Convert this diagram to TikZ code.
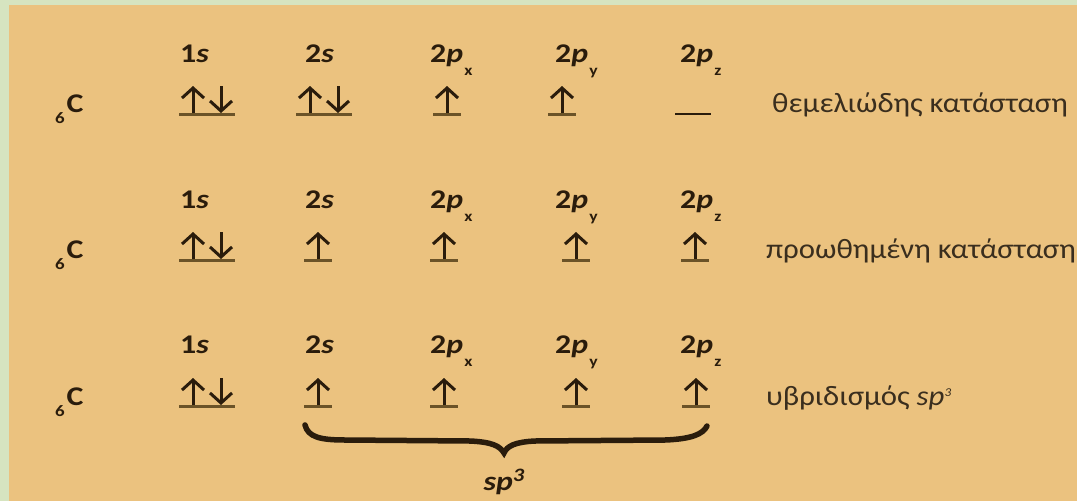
\documentclass[tikz,border=0pt]{standalone}
\usepackage{fontspec}
\setmainfont{Carlito}
\usetikzlibrary{arrows.meta,calc}
\definecolor{bgorange}{HTML}{EBC27F}
\definecolor{bggreen}{HTML}{D6E4C0}
\definecolor{ink}{HTML}{2A1C0C}
\definecolor{linec}{HTML}{6B5328}
\definecolor{greek}{HTML}{3A2E1E}
\newcommand\hs[1]{\scalebox{1.18}[1]{#1}}
\newcommand\gs[1]{\scalebox{1.1}[1]{#1}}
\newcommand\lowsub[1]{\kern1pt\raisebox{-13pt}{\fontsize{15}{15}\selectfont #1}}
\newcommand\atomsub[1]{\raisebox{-11pt}{\fontsize{16}{16}\selectfont\bfseries #1}\kern1.5pt}
\newcommand\orbpair[3]{%
  \coordinate (#1) at (#2,#3);
  \draw[orbline] ($(#1)+(-28,0)$) -- ($(#1)+(28,0)$);
  \draw[spin] ($(#1)+(-14,-1)$) -- ($(#1)+(-14,-28)$);
  \draw[spin] ($(#1)+(14,-28)$) -- ($(#1)+(14,-1)$);
}
\newcommand\orbup[3]{%
  \coordinate (#1) at (#2,#3);
  \draw[orbline] ($(#1)+(-14,0)$) -- ($(#1)+(14,0)$);
  \draw[spin] ($(#1)+(0,-1)$) -- ($(#1)+(0,-28)$);
}
\newcommand\orbnone[3]{%
  \coordinate (#1) at (#2,#3);
  \draw[emptyline] ($(#1)+(-18,0)$) -- ($(#1)+(18,0)$);
}
\begin{document}
\begin{tikzpicture}[x=1pt,y=-1pt,
  orbline/.style={line width=3pt, draw=linec},
  emptyline/.style={line width=2.6pt, draw=ink},
  spin/.style={line width=3pt, draw=ink, -{Straight Barb[length=10pt,width=22pt]}},
  lab/.style={anchor=base west, inner sep=0pt, text=ink, font=\fontsize{27}{27}\selectfont\bfseries},
  atom/.style={anchor=base west, inner sep=0pt, text=ink, font=\fontsize{27}{27}\selectfont\bfseries},
  state/.style={anchor=base west, inner sep=0pt, text=greek, font=\fontsize{28}{28}\selectfont},
  brace/.style={line width=5.5pt, draw=ink, line cap=round}]
\useasboundingbox (0,0) rectangle (1077,501);
\fill[bggreen] (0,0) rectangle (1077,501);
\fill[bgorange] (9,5) rectangle (1077,501);

% row 1: ground state
\node[atom] (c1) at (55,112) {\hs{\atomsub{6}C}};
\node[lab] (l11) at (180,62) {\hs{1\textit{s}}};
\node[lab] (l12) at (305,62) {\hs{2\textit{s}}};
\node[lab] (l13) at (430,62) {\hs{2\textit{p}\lowsub{x}}};
\node[lab] (l14) at (555,62) {\hs{2\textit{p}\lowsub{y}}};
\node[lab] (l15) at (680,62) {\hs{2\textit{p}\lowsub{z}}};
\orbpair{o11}{207}{114}
\orbpair{o12}{324}{114}
\orbup{o13}{447}{114}
\orbup{o14}{562}{114}
\orbnone{o15}{693}{114}
\node[state] (s1) at (772,112) {\gs{θεμελιώδης κατάσταση}};

% row 2: excited state
\node[atom] (c2) at (55,258) {\hs{\atomsub{6}C}};
\node[lab] (l21) at (180,208) {\hs{1\textit{s}}};
\node[lab] (l22) at (305,208) {\hs{2\textit{s}}};
\node[lab] (l23) at (430,208) {\hs{2\textit{p}\lowsub{x}}};
\node[lab] (l24) at (555,208) {\hs{2\textit{p}\lowsub{y}}};
\node[lab] (l25) at (680,208) {\hs{2\textit{p}\lowsub{z}}};
\orbpair{o21}{207}{260}
\orbup{o22}{318}{260}
\orbup{o23}{444}{260}
\orbup{o24}{576}{260}
\orbup{o25}{695}{260}
\node[state] (s2) at (766,258) {\gs{προωθημένη κατάσταση}};

% row 3: hybridisation
\node[atom] (c3) at (55,405) {\hs{\atomsub{6}C}};
\node[lab] (l31) at (180,353) {\hs{1\textit{s}}};
\node[lab] (l32) at (305,353) {\hs{2\textit{s}}};
\node[lab] (l33) at (430,353) {\hs{2\textit{p}\lowsub{x}}};
\node[lab] (l34) at (555,353) {\hs{2\textit{p}\lowsub{y}}};
\node[lab] (l35) at (680,353) {\hs{2\textit{p}\lowsub{z}}};
\orbpair{o31}{207}{406}
\orbup{o32}{318}{406}
\orbup{o33}{444}{406}
\orbup{o34}{576}{406}
\orbup{o35}{696}{406}
\node[state] (s3) at (766,405) {\gs{υβριδισμός \textit{sp}\raisebox{9pt}{\fontsize{12}{12}\selectfont\textit{3}}}};

% brace
\coordinate (bs) at (305,425);
\coordinate (bt) at (504,453);
\coordinate (be) at (707,426);
\draw[brace] (bs) .. controls (308,437) and (320,440) .. (345,440) -- (470,441)
  .. controls (492,442) and (500,446) .. (bt)
  .. controls (507,446) and (515,442) .. (535,441) -- (665,440)
  .. controls (692,439) and (703,434) .. (be);
\node[lab, anchor=base] (sp) at (504,490) {\hs{\textit{sp}\raisebox{9pt}{\fontsize{19}{19}\selectfont\textit{3}}}};
\end{tikzpicture}
\end{document}
